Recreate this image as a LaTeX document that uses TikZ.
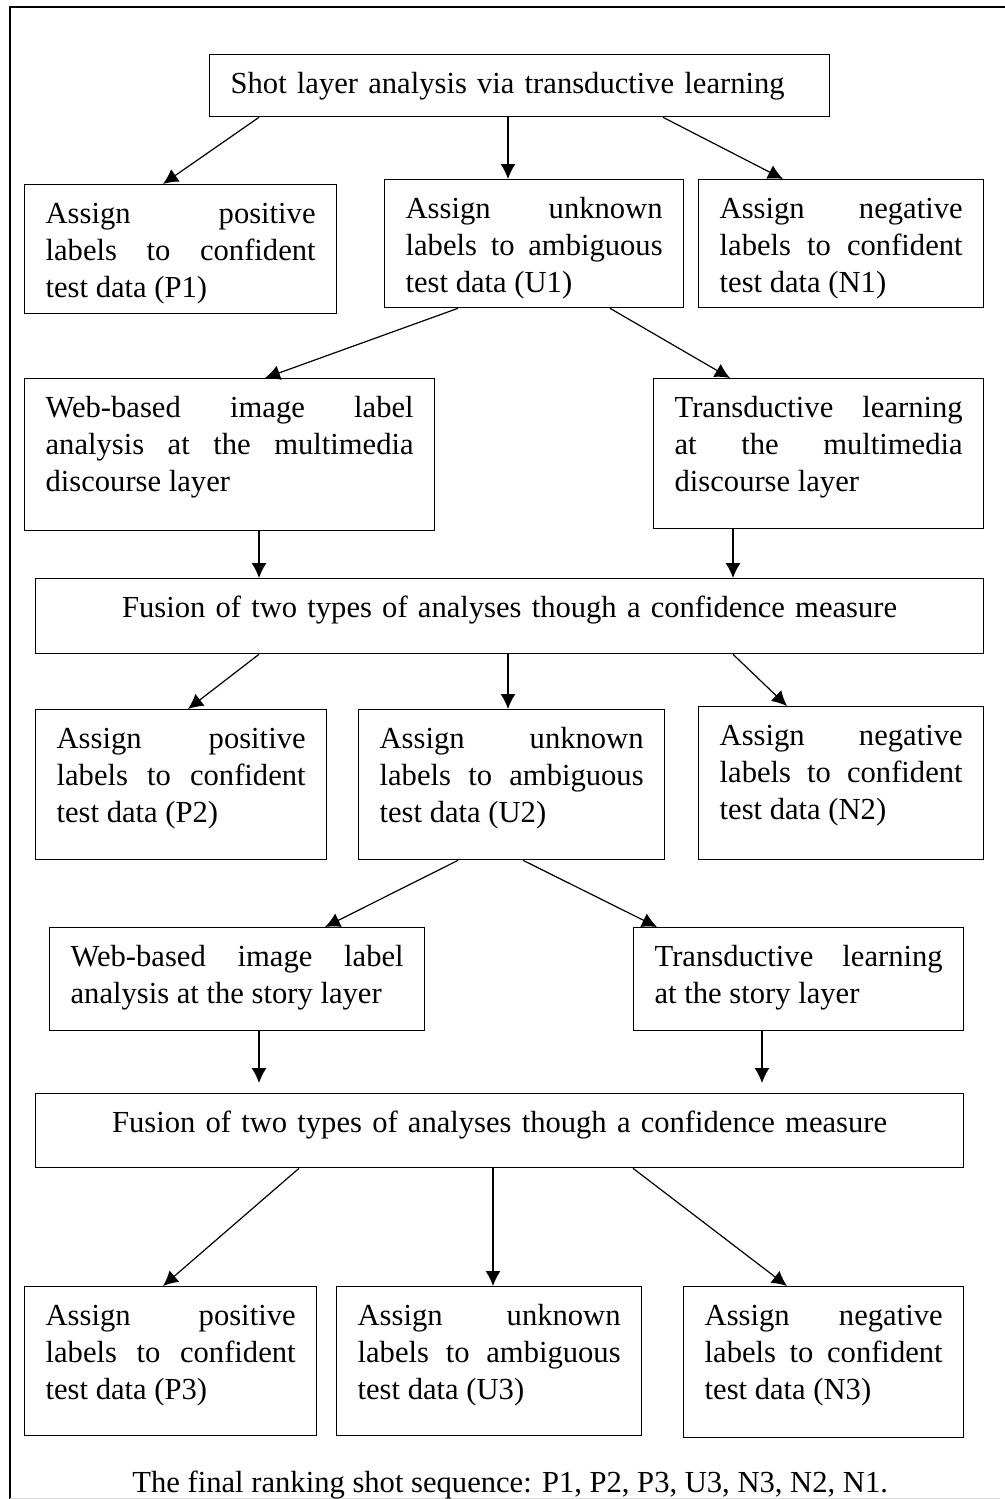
\documentclass[tikz,border=0pt]{standalone}
\usepackage{fontspec}
\setmainfont{Liberation Serif}
\usetikzlibrary{arrows.meta}
\newcommand\diagfont{\fontsize{15.3pt}{18.5pt}\selectfont\tolerance=10000\hbadness=10000}
\tikzset{
  box/.style={draw, line width=0.65pt, anchor=north west, inner xsep=10.5pt,
    inner ysep=0pt, text height=19.5pt, align=justify, font=\diagfont},
  arr/.style={-{Latex[length=7.5pt,width=7.5pt]}, line width=0.6pt}
}
\begin{document}
\begin{tikzpicture}[x=0.5pt,y=-0.5pt]
      \useasboundingbox (0,0) rectangle (1005,1499);
      \draw[line width=0.7pt] (10,1499) -- (10,7) -- (1005,7);
      \draw[black!15, line width=0.5pt] (10,1498) -- (1000,1498);
      % shot layer
      \node[box, align=left, text width=289pt, text depth=11.5pt] (shot) at (209,54)
        {Shot layer analysis via transductive learning};
      \node[box, text width=135pt, text depth=45pt] (p1) at (24,184)
        {Assign positive\linebreak labels to confident\linebreak test data (P1)};
      \node[box, text width=128.5pt, text depth=44.5pt] (u1) at (384,179)
        {Assign unknown\linebreak labels to ambiguous\linebreak test data (U1)};
      \node[box, text width=121.5pt, text depth=44.5pt] (n1) at (698,179)
        {Assign negative\linebreak labels to confident\linebreak test data (N1)};
      % multimedia discourse layer
      \node[box, text width=184pt, text depth=56.5pt] (web1) at (24,378)
        {Web-based image label\linebreak analysis at the multimedia\linebreak discourse layer};
      \node[box, text width=144pt, text depth=55.5pt] (trans1) at (653,378)
        {Transductive learning\linebreak at the multimedia\linebreak discourse layer};
      \node[box, align=center, text width=453pt, text depth=18pt] (fuse1) at (35,578)
        {Fusion of two types of analyses though a confidence measure};
      \node[box, text width=124.5pt, text depth=55.5pt] (p2) at (35,709)
        {Assign positive\linebreak labels to confident\linebreak test data (P2)};
      \node[box, text width=132pt, text depth=55.5pt] (u2) at (358,709)
        {Assign unknown\linebreak labels to ambiguous\linebreak test data (U2)};
      \node[box, text width=121.5pt, text depth=57pt] (n2) at (698,706)
        {Assign negative\linebreak labels to confident\linebreak test data (N2)};
      % story layer
      \node[box, text width=166.5pt, text depth=32pt] (web2) at (49,927)
        {Web-based image label\linebreak analysis at the story layer};
      \node[box, text width=144pt, text depth=32pt] (trans2) at (633,927)
        {Transductive learning\linebreak at the story layer};
      \node[box, align=center, text width=443pt, text depth=17.5pt] (fuse2) at (35,1093)
        {Fusion of two types of analyses though a confidence measure};
      \node[box, text width=125pt, text depth=55pt] (p3) at (24,1286)
        {Assign positive\linebreak labels to confident\linebreak test data (P3)};
      \node[box, text width=131.5pt, text depth=55pt] (u3) at (336,1286)
        {Assign unknown\linebreak labels to ambiguous\linebreak test data (U3)};
      \node[box, text width=119pt, text depth=56pt] (n3) at (683,1286)
        {Assign negative\linebreak labels to confident\linebreak test data (N3)};
      \node[anchor=base west, inner sep=0pt, font=\diagfont] (caption) at (132,1492)
        {The final ranking shot sequence: P1, P2, P3, U3, N3, N2, N1.};
      \begin{scope}[arr]
        \draw ([xshift=25pt]shot.south west) -- ([xshift=69.5pt]p1.north west);
        \draw ([xshift=149.5pt]shot.south west) -- ([xshift=62pt]u1.north west);
        \draw ([xshift=227pt]shot.south west) -- ([xshift=42.5pt]n1.north west);
        \draw ([xshift=37pt]u1.south west) -- ([xshift=120.5pt]web1.north west);
        \draw ([xshift=113pt]u1.south west) -- ([xshift=38.5pt]trans1.north west);
        \draw ([xshift=117.5pt]web1.south west) -- ([xshift=112pt]fuse1.north west);
        \draw ([xshift=40pt]trans1.south west) -- ([xshift=349pt]fuse1.north west);
        \draw ([xshift=112pt]fuse1.south west) -- ([xshift=76.5pt]p2.north west);
        \draw ([xshift=236.5pt]fuse1.south west) -- ([xshift=75pt]u2.north west);
        \draw ([xshift=349pt]fuse1.south west) -- ([xshift=44.5pt]n2.north west);
        \draw ([xshift=50pt]u2.south west) -- ([xshift=138pt]web2.north west);
        \draw ([xshift=82.5pt]u2.south west) -- ([xshift=12pt]trans2.north west);
        \draw ([xshift=105pt]web2.south west) -- ([xshift=112pt,yshift=5pt]fuse2.north west);
        \draw ([xshift=64.5pt]trans2.south west) -- ([xshift=363.5pt,yshift=5pt]fuse2.north west);
        \draw ([xshift=132pt]fuse2.south west) -- ([xshift=69.5pt]p3.north west);
        \draw ([xshift=229pt]fuse2.south west) -- ([xshift=78.5pt]u3.north west);
        \draw ([xshift=299pt]fuse2.south west) -- ([xshift=52pt]n3.north west);
      \end{scope}
    \end{tikzpicture}
\end{document}
